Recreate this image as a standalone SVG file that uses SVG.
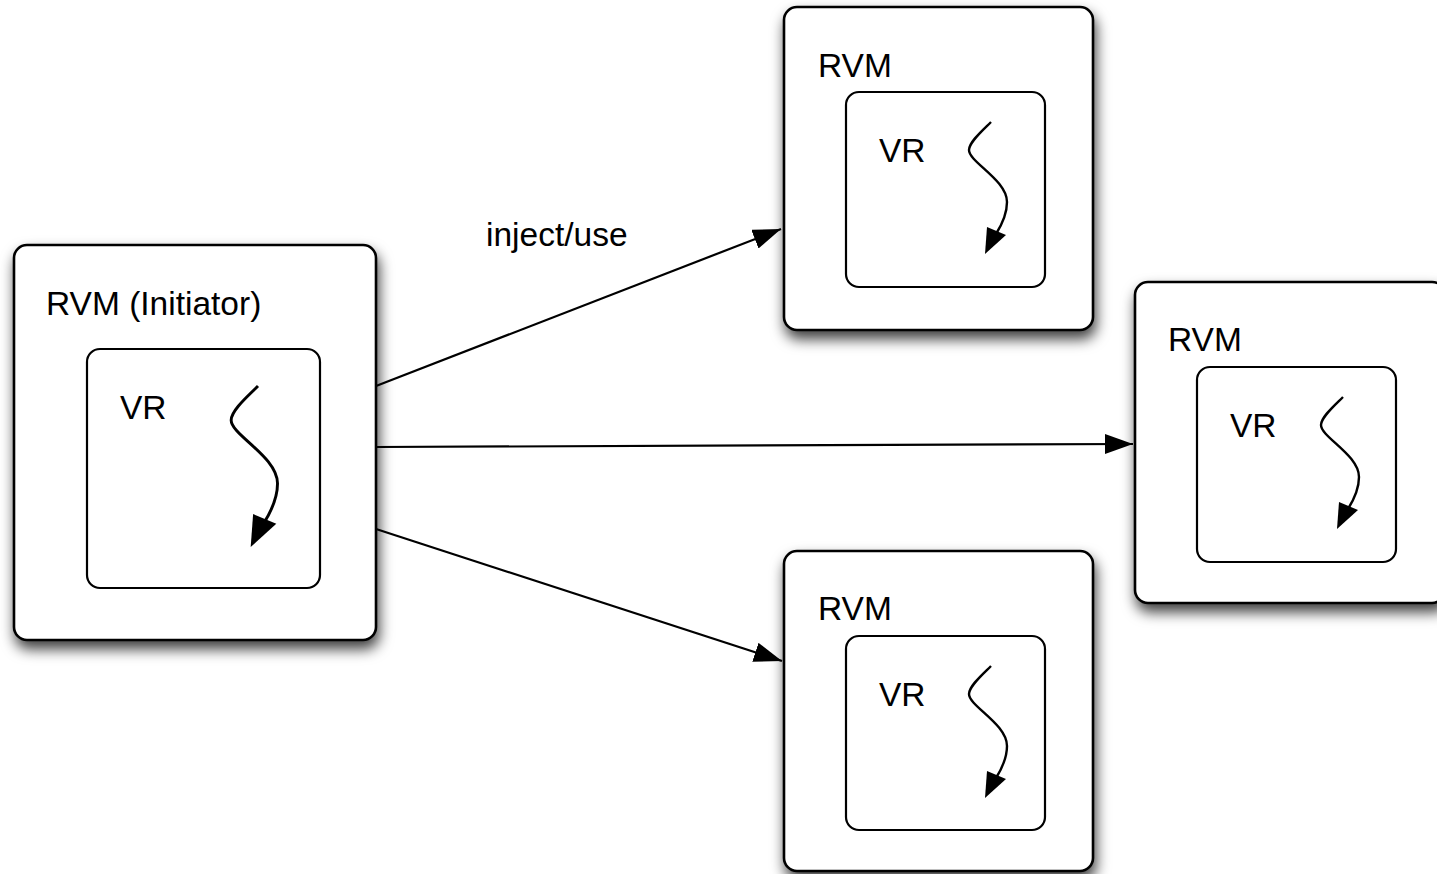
<svg xmlns="http://www.w3.org/2000/svg" xmlns:xlink="http://www.w3.org/1999/xlink" width="1437" height="874" viewBox="0 0 1437 874">
  <style>
    .outer { fill: #ffffff; stroke: #000000; stroke-width: 2.6; filter: url(#shadow); }
    .inner { fill: #ffffff; stroke: #000000; stroke-width: 2.2; }
    .label { font-family: "Liberation Sans", Arial, sans-serif; font-size: 33.5px; fill: #000000; }
    .edge { fill: none; stroke: #000000; stroke-width: 2.2; marker-end: url(#arrow); }
    .thread { fill: none; stroke: #000000; stroke-width: 2.4; }
  </style>
  <defs>
    <filter id="shadow" x="-20%" y="-20%" width="140%" height="140%">
      <feDropShadow dx="2" dy="8" stdDeviation="7" flood-color="#000000" flood-opacity="0.75"/>
    </filter>
    <marker id="arrow" markerUnits="userSpaceOnUse" markerWidth="30" markerHeight="22" refX="28" refY="10" orient="auto">
      <path d="M0,0 L28,10 L0,20 Z" fill="#000000"/>
    </marker>
    <!-- wavy thread with its arrowhead, origin at the top end -->
    <g id="thread">
      <path class="thread" d="M0,0 C-8,8 -22,20 -22,28 C-22,40 16,58 16,80 C16,92 10,104 5,112"/>
      <polygon points="-6,132 -4,105 15,113" fill="#000000"/>
    </g>
  </defs>

  <g id="rvm-initiator">
    <rect class="outer" x="14" y="245" width="362" height="395" rx="13"/>
    <text class="label" x="46" y="315">RVM (Initiator)</text>
    <rect class="inner" x="87" y="349" width="233" height="239" rx="13"/>
    <text class="label" x="120" y="419">VR</text>
    <use xlink:href="#thread" transform="translate(258,386) scale(1.22)"/>
  </g>

  <g id="rvm-top">
    <rect class="outer" x="784" y="7" width="309" height="323" rx="13"/>
    <text class="label" x="818" y="77">RVM</text>
    <rect class="inner" x="846" y="92" width="199" height="195" rx="13"/>
    <text class="label" x="879" y="162">VR</text>
    <use xlink:href="#thread" transform="translate(991,122)"/>
  </g>

  <g id="rvm-right">
    <rect class="outer" x="1135" y="282" width="310" height="321" rx="13"/>
    <text class="label" x="1168" y="351">RVM</text>
    <rect class="inner" x="1197" y="367" width="199" height="195" rx="13"/>
    <text class="label" x="1230" y="437">VR</text>
    <use xlink:href="#thread" transform="translate(1343,397)"/>
  </g>

  <g id="rvm-bottom">
    <rect class="outer" x="784" y="551" width="309" height="320" rx="13"/>
    <text class="label" x="818" y="620">RVM</text>
    <rect class="inner" x="846" y="636" width="199" height="194" rx="13"/>
    <text class="label" x="879" y="706">VR</text>
    <use xlink:href="#thread" transform="translate(991,666)"/>
  </g>

  <g id="connectors">
    <line class="edge" x1="376" y1="386" x2="781" y2="229"/>
    <line class="edge" x1="376" y1="447" x2="1133" y2="444"/>
    <line class="edge" x1="376" y1="529" x2="782" y2="661"/>
    <text class="label" x="486" y="246">inject/use</text>
  </g>
</svg>
